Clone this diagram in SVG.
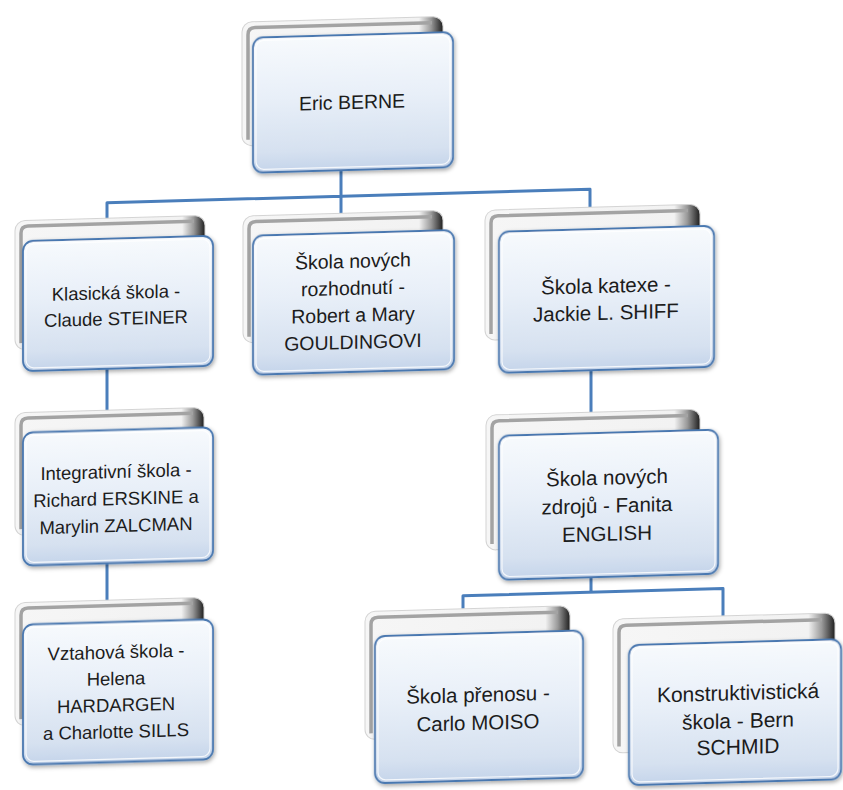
<svg xmlns="http://www.w3.org/2000/svg" width="843" height="790" viewBox="0 0 843 790">
<style>
.bk{fill:url(#gBack);stroke:#d4d4d4;stroke-width:1}
.bki{fill:none;stroke:#a3a3a3;stroke-width:3.5}
.fr{fill:url(#gFront);stroke:#4a78b0;stroke-width:1.8;filter:url(#sh)}
.hl{fill:none;stroke:#ffffff;stroke-width:1.2;opacity:0.8}
.t{font-family:"Liberation Sans",Arial,sans-serif;fill:#1c1c1c;text-anchor:middle}
.c{fill:none;stroke:#4a7ebb;stroke-width:3;stroke-linejoin:round}
</style>
<defs>
<linearGradient id="gBack" x1="0" y1="0" x2="1" y2="0">
<stop offset="0" stop-color="#f6f6f6"/>
<stop offset="0.88" stop-color="#f2f2f2"/>
<stop offset="0.94" stop-color="#9a9a9a"/>
<stop offset="1" stop-color="#1e1e1e"/>
</linearGradient>
<linearGradient id="gFront" x1="0" y1="0" x2="0" y2="1">
<stop offset="0" stop-color="#f7fafd"/>
<stop offset="0.45" stop-color="#e8eff8"/>
<stop offset="0.85" stop-color="#d6e1f0"/>
<stop offset="1" stop-color="#c4d4ea"/>
</linearGradient>
<filter id="sh" x="-10%" y="-10%" width="125%" height="130%">
<feGaussianBlur in="SourceAlpha" stdDeviation="2"/>
<feOffset dx="1" dy="2" result="b"/>
<feFlood flood-color="#000" flood-opacity="0.35"/>
<feComposite in2="b" operator="in"/>
<feMerge><feMergeNode/><feMergeNode in="SourceGraphic"/></feMerge>
</filter>
</defs>
<g transform="matrix(1 -0.028 0 1 0 11.76)">
<g id="connectors">
<path class="c" d="M341 167 V194 M107 211 V194 H590 V212 M341 194 V211"/>
<path class="c" d="M107 359 V402 M107 554 V592"/>
<path class="c" d="M591 375 V417 M591 582 V597 M463 610 V597 H723 V625"/>
</g>
<g id="n-berne">
<rect class="bk" x="242" y="17" width="201" height="124" rx="10"/>
<path class="bki" d="M248 135 V30 Q248 23 255 23 H432"/>
<rect class="fr" x="253" y="33" width="200" height="135" rx="10"/>
<rect class="hl" x="256" y="36" width="194" height="129" rx="8"/>
<text class="t" font-size="19.5" x="352" y="107">Eric BERNE</text>
</g>
<g id="n-klasicka">
<rect class="bk" x="15" y="209.5" width="190" height="129" rx="10"/>
<path class="bki" d="M21 332 V222 Q21 215 28 215 H194"/>
<rect class="fr" x="23" y="230" width="190" height="130" rx="10"/>
<rect class="hl" x="26" y="233" width="184" height="124" rx="8"/>
<text class="t" font-size="18.5" x="116" y="290.5">Klasická škola -</text>
<text class="t" font-size="18.5" x="116" y="316.5">Claude STEINER</text>
</g>
<g id="n-rozhodnuti">
<rect class="bk" x="243" y="211" width="200" height="127" rx="10"/>
<path class="bki" d="M249 332 V224 Q249 217 256 217 H432"/>
<rect class="fr" x="253" y="231" width="201" height="139" rx="10"/>
<rect class="hl" x="256" y="234" width="195" height="133" rx="8"/>
<text class="t" font-size="19.5" x="353" y="266">Škola nových</text>
<text class="t" font-size="19.5" x="353" y="293">rozhodnutí -</text>
<text class="t" font-size="19.5" x="353" y="320">Robert a Mary</text>
<text class="t" font-size="19.5" x="353" y="347">GOULDINGOVI</text>
</g>
<g id="n-katexe">
<rect class="bk" x="485" y="212" width="215" height="130" rx="10"/>
<path class="bki" d="M491 336 V225 Q491 218 498 218 H688"/>
<rect class="fr" x="499" y="234" width="215" height="141" rx="10"/>
<rect class="hl" x="502" y="237" width="209" height="135" rx="8"/>
<text class="t" font-size="20.5" x="606" y="298">Škola katexe -</text>
<text class="t" font-size="20.5" x="606" y="325">Jackie L. SHIFF</text>
</g>
<g id="n-integrativni">
<rect class="bk" x="15" y="401.5" width="189" height="123" rx="10"/>
<path class="bki" d="M21 518 V414 Q21 407 28 407 H193"/>
<rect class="fr" x="23" y="421.5" width="190" height="133" rx="10"/>
<rect class="hl" x="26" y="424.5" width="184" height="127" rx="8"/>
<text class="t" font-size="18.5" x="116" y="469.5">Integrativní škola -</text>
<text class="t" font-size="18.5" x="116" y="496.5">Richard ERSKINE a</text>
<text class="t" font-size="18.5" x="116" y="523.5">Marylin ZALCMAN</text>
</g>
<g id="n-vztahova">
<rect class="bk" x="15" y="591.5" width="189" height="123" rx="10"/>
<path class="bki" d="M21 708 V604 Q21 597 28 597 H193"/>
<rect class="fr" x="23" y="613.5" width="190" height="140" rx="10"/>
<rect class="hl" x="26" y="616.5" width="184" height="134" rx="8"/>
<text class="t" font-size="18.5" x="116" y="650">Vztahová škola -</text>
<text class="t" font-size="18.5" x="116" y="676.5">Helena</text>
<text class="t" font-size="18.5" x="116" y="703">HARDARGEN</text>
<text class="t" font-size="18.5" x="116" y="729.5">a Charlotte SILLS</text>
</g>
<g id="n-zdroju">
<rect class="bk" x="486" y="417" width="214" height="135" rx="10"/>
<path class="bki" d="M492 546 V430 Q492 423 499 423 H688"/>
<rect class="fr" x="499" y="438" width="219" height="144" rx="10"/>
<rect class="hl" x="502" y="441" width="213" height="138" rx="8"/>
<text class="t" font-size="20.5" x="607" y="490">Škola nových</text>
<text class="t" font-size="20.5" x="607" y="518">zdrojů - Fanita</text>
<text class="t" font-size="20.5" x="607" y="546">ENGLISH</text>
</g>
<g id="n-prenosu">
<rect class="bk" x="365" y="610" width="205" height="128" rx="10"/>
<path class="bki" d="M371 732 V623 Q371 616 378 616 H558"/>
<rect class="fr" x="375" y="635" width="208" height="147" rx="10"/>
<rect class="hl" x="378" y="638" width="202" height="141" rx="8"/>
<text class="t" font-size="20.5" x="478" y="703.5">Škola přenosu -</text>
<text class="t" font-size="20.5" x="478" y="731.5">Carlo MOISO</text>
</g>
<g id="n-konstruktivisticka">
<rect class="bk" x="613" y="624.5" width="222" height="134" rx="10"/>
<path class="bki" d="M619 752 V638 Q619 631 626 631 H822"/>
<rect class="fr" x="629" y="651" width="212" height="140" rx="10"/>
<rect class="hl" x="632" y="654" width="206" height="134" rx="8"/>
<text class="t" font-size="21" x="738" y="709">Konstruktivistická</text>
<text class="t" font-size="21" x="738" y="737">škola - Bern</text>
<text class="t" font-size="21" x="738" y="763">SCHMID</text>
</g>
</g>
</svg>
